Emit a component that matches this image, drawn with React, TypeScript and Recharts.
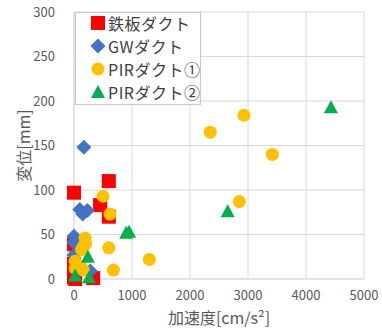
import React from 'react';
import {
  ScatterChart,
  Scatter,
  XAxis,
  YAxis,
  CartesianGrid,
} from 'recharts';

const seriesNames = ['鉄板ダクト', 'GWダクト', 'PIRダクト①', 'PIRダクト②'];
const seriesColors = ['#FF0000', '#4472C4', '#FFC000', '#00B050'];

// [acceleration, displacement]
const steelPlate = [
  [0, 97], [600, 110], [450, 83], [600, 70], [0, 39], [0, 17], [0, 2], [330, 1], [20, 0],
];
const glassWool = [
  [170, 148], [100, 78], [230, 77], [150, 73], [0, 48], [0, 41], [0, 27], [280, 9], [150, 12],
];
const pir1 = [
  [2930, 184], [2350, 165], [3420, 140], [2850, 87], [500, 93], [620, 73], [600, 35],
  [1300, 22], [680, 10], [190, 46], [200, 40], [160, 36], [130, 33], [20, 20], [100, 14],
  [20, 12], [160, 10],
];
const pir2 = [
  [4430, 193], [2650, 76], [900, 52], [950, 53], [240, 25], [20, 4], [260, 2],
];

const xTicks = [0, 1000, 2000, 3000, 4000, 5000];
const yTicks = [0, 50, 100, 150, 200, 250, 300];

const toPoints = (arr: number[][]) => arr.map(([x, y]) => ({ x, y }));

const FONT = '"Noto Sans CJK JP", "Noto Sans", sans-serif';

const Marker = ({ kind, cx, cy, color }: { kind: number; cx: number; cy: number; color: string }) => {
  if (kind === 0) return <rect x={cx - 7} y={cy - 7} width={14} height={14} fill={color} />;
  if (kind === 1)
    return <polygon points={`${cx},${cy - 7.5} ${cx + 7.5},${cy} ${cx},${cy + 7.5} ${cx - 7.5},${cy}`} fill={color} />;
  if (kind === 2) return <circle cx={cx} cy={cy} r={6.5} fill={color} />;
  return <polygon points={`${cx},${cy - 7} ${cx + 7},${cy + 6} ${cx - 7},${cy + 6}`} fill={color} />;
};

const LegendBox = () => (
  <div
    style={{
      position: 'absolute',
      left: 75,
      top: 12,
      background: '#fff',
      border: '1px solid #c8c8c8',
      width: 126,
      height: 93,
      boxSizing: 'border-box',
      padding: '0 0 0 14px',
      fontFamily: FONT,
      fontSize: 16,
      color: '#404040',
    }}
  >
    <div style={{ transform: 'translateY(-2px)' }}>
      {seriesNames.map((n, i) => (
        <div key={n} style={{ height: 23, display: 'flex', alignItems: 'center' }}>
          <svg width={17} height={16} style={{ marginRight: 1, flexShrink: 0 }}>
            <Marker kind={i} cx={8} cy={8} color={seriesColors[i]} />
          </svg>
          <span style={{ whiteSpace: 'nowrap', lineHeight: '16px', letterSpacing: 0.5 }}>{n}</span>
        </div>
      ))}
    </div>
  </div>
);

const allSeries = [steelPlate, glassWool, pir1, pir2];

export default function App() {
  return (
    <div style={{ position: 'absolute', left: 0, top: 0, width: 382, height: 329, background: '#fff' }}>
      <ScatterChart width={382} height={329} margin={{ top: 12, right: 18, bottom: 0, left: 0 }}>
        <CartesianGrid stroke="#d9d9d9" strokeWidth={1} />
        <XAxis
          type="number"
          dataKey="x"
          domain={[0, 5000]}
          ticks={xTicks}
          height={50}
          tickLine={false}
          tickSize={0}
          tickMargin={12}
          axisLine={{ stroke: '#d9d9d9' }}
          tick={{ fill: '#595959', fontSize: 13, fontFamily: FONT }}
          label={(props: any) => {
            const vb = props.viewBox;
            return (
              <text
                x={vb.x + vb.width / 2}
                y={vb.y + 38}
                textAnchor="middle"
                dominantBaseline="central"
                fill="#595959"
                fontSize={16}
                fontFamily={FONT}
              >
                加速度[cm/s²]
              </text>
            );
          }}
        />
        <YAxis
          type="number"
          dataKey="y"
          domain={[0, 300]}
          ticks={yTicks}
          width={74}
          tickLine={false}
          tickSize={0}
          tickMargin={19}
          axisLine={{ stroke: '#d9d9d9' }}
          tick={{ fill: '#595959', fontSize: 13, fontFamily: FONT }}
          label={(props: any) => {
            const vb = props.viewBox;
            const cy = vb.y + vb.height / 2;
            return (
              <text
                x={23}
                y={cy}
                transform={`rotate(-90 23 ${cy})`}
                textAnchor="middle"
                dominantBaseline="central"
                fill="#595959"
                fontSize={16}
                fontFamily={FONT}
              >
                変位[mm]
              </text>
            );
          }}
        />
        {allSeries.map((s, i) => (
          <Scatter
            key={seriesNames[i]}
            name={seriesNames[i]}
            data={toPoints(s)}
            fill={seriesColors[i]}
            isAnimationActive={false}
            shape={(p: any) => <Marker kind={i} cx={p.cx} cy={p.cy} color={seriesColors[i]} />}
          />
        ))}
      </ScatterChart>
      <LegendBox />
    </div>
  );
}
